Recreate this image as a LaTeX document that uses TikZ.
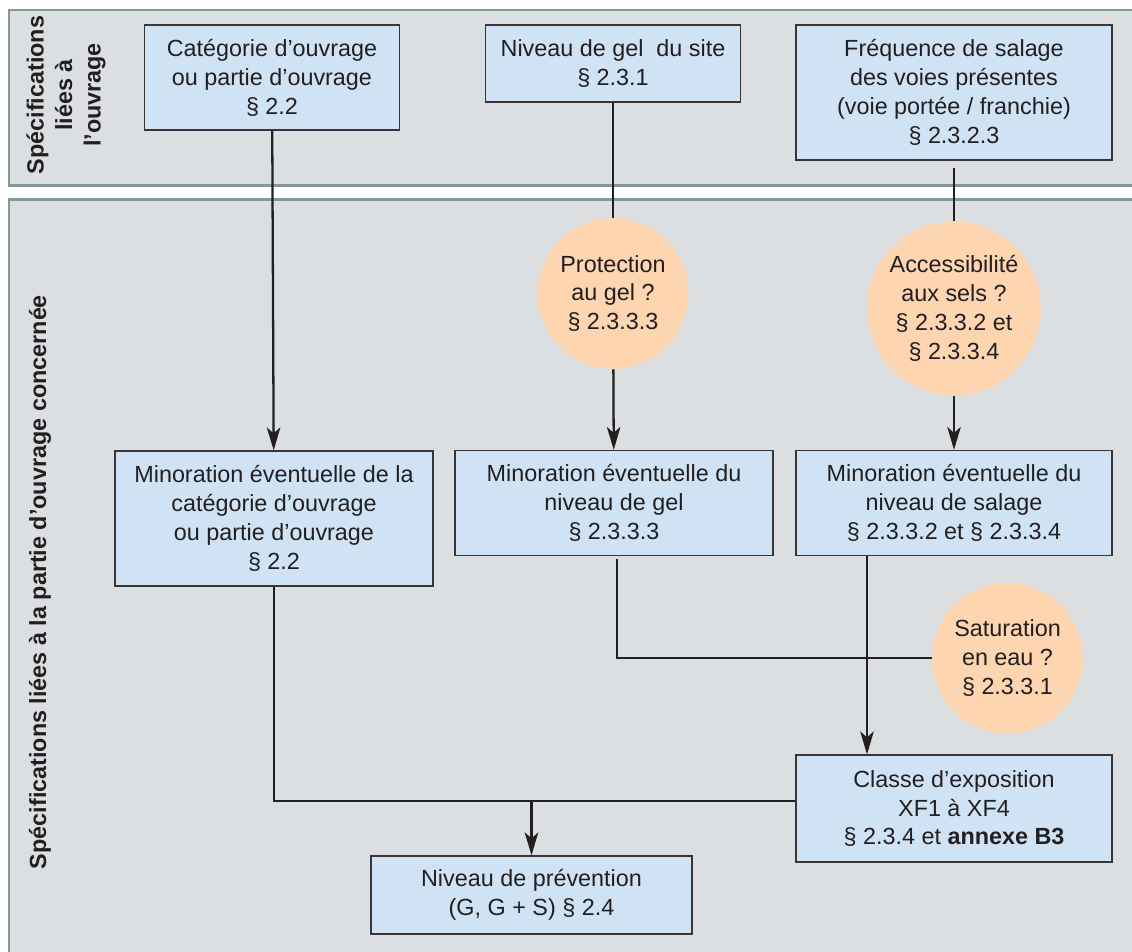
\documentclass[tikz,border=0pt]{standalone}
\usepackage{fontspec}
\setmainfont{Liberation Sans}
\usepackage{xcolor}
\usetikzlibrary{positioning,arrows.meta}

\definecolor{bandfill}{HTML}{DCDFE2}
\definecolor{bandline}{HTML}{86979A}
\definecolor{boxfill}{HTML}{CFE3F4}
\definecolor{askfill}{HTML}{FDD5B0}
\definecolor{ink}{HTML}{231F20}

\begin{document}
\begin{tikzpicture}[x=0.02cm, y=-0.02cm,
  band/.style={draw=bandline, line width=1.7pt, fill=bandfill},
  bandlabel/.style={rotate=90, align=center, text=ink, font=\bfseries\fontsize{13.3}{16.2}\selectfont, inner sep=0pt},
  box/.style={draw=ink!90, line width=0.7pt, fill=boxfill, align=center, text=ink, font=\fontsize{13.3}{16.5}\selectfont, inner sep=2pt},
  ask/.style={circle, fill=askfill, align=center, text=ink, font=\fontsize{13.3}{16.5}\selectfont, inner sep=0pt},
  link/.style={draw=ink, line width=1.3pt},
  arr/.style={link, -{Stealth[length=4.6mm, width=2.7mm, inset=1.2mm]}}
]
\clip (0,0) rectangle (1132,951);

% bands
\draw[band] (9,10) rectangle (1150,185);
\draw[band] (9,199) rectangle (1150,970);
\node[bandlabel] (lab1) at (66,95) {Spécifications\\liées à\\l’ouvrage};
\node[bandlabel] (lab2) at (40,582) {Spécifications liées à la partie d’ouvrage concernée};

% ouvrage
\node[box, minimum width=5.1cm, minimum height=2.1cm] (o1) at (272,77.5) {Catégorie d’ouvrage\\ou partie d’ouvrage\\§ 2.2};
\node[box, minimum width=5.1cm, minimum height=1.54cm] (o2) at (613,63.5) {Niveau de gel\ \ du site\\§ 2.3.1};
\node[box, minimum width=6.32cm, minimum height=2.7cm] (o3) at (954,92.5) {Fréquence de salage\\des voies présentes\\(voie portée / franchie)\\§ 2.3.2.3};

% questions
\node[ask, minimum size=3.02cm] (q1) at (613,293.5) {Protection\\au gel ?\\§ 2.3.3.3};
\node[ask, minimum size=3.48cm] (q2) at (954,308.5) {Accessibilité\\aux sels ?\\§ 2.3.3.2 et\\§ 2.3.3.4};

% minorations
\node[box, minimum width=6.36cm, minimum height=2.7cm] (m1) at (274,518.5) {Minoration éventuelle de la\\catégorie d’ouvrage\\ou partie d’ouvrage\\§ 2.2};
\node[box, minimum width=6.36cm, minimum height=2.1cm] (m2) at (614,503) {Minoration éventuelle du\\niveau de gel\\§ 2.3.3.3};
\node[box, minimum width=6.32cm, minimum height=2.1cm] (m3) at (954,503) {Minoration éventuelle du\\niveau de salage\\§ 2.3.3.2 et § 2.3.3.4};

\node[ask, minimum size=3.02cm] (q3) at (1007.5,658) {Saturation\\en eau ?\\§ 2.3.3.1};

% resultats
\node[box, minimum width=6.32cm, minimum height=2.14cm] (xf) at (954,808.5) {Classe d’exposition\\XF1 à XF4\\§ 2.3.4 et \textbf{annexe B3}};
\node[box, minimum width=6.42cm, minimum height=1.56cm] (np) at (531.5,895) {Niveau de prévention\\(G, G + S) § 2.4};

\coordinate (j) at (531.5,801);
\coordinate (s) at (867,0);

\draw[arr] (o1) -- (m1);
\draw[link] (o2) -- (q1);
\draw[arr] (q1) -- (m2);
\draw[link] ([yshift=-0.14cm]o3.south) -- (q2);
\draw[arr] (q2) -- (m3);
\draw[link] ([xshift=0.06cm, yshift=-0.06cm]m2.south) |- (q3.west);
\draw[arr] (m3.south -| s) -- (xf.north -| s);
\draw[link] (m1.south) |- (j) -- (xf.west |- j);
\draw[arr] (j) -- (np);
\end{tikzpicture}
\end{document}
